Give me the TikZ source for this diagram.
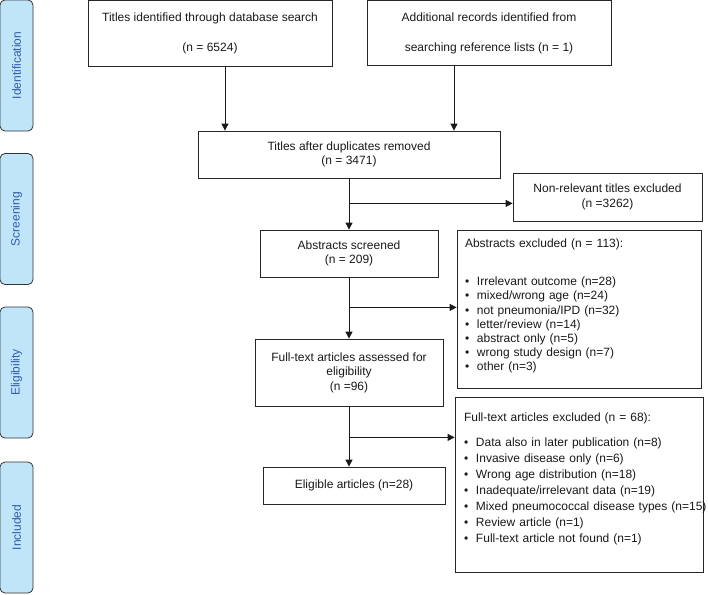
\documentclass[tikz,border=0pt]{standalone}
\usepackage{fontspec}
\setmainfont{Liberation Sans}
\usetikzlibrary{arrows.meta}
\definecolor{bandblue}{RGB}{192,229,249}
\definecolor{bandtext}{RGB}{50,92,175}
\newcommand{\bitem}[1]{\mbox{\makebox[12pt][l]{\textbullet}#1}}

\begin{document}
\begin{tikzpicture}[x=1pt,y=-1pt,
    box/.style={draw=black!85,line width=0.8pt,align=center,inner sep=0pt,text=black!90,
                font=\fontsize{12}{14.5}\selectfont},
    listbox/.style={box,align=left,inner xsep=8pt,font=\fontsize{12}{14.2}\selectfont},
    band/.style={draw=black!80,line width=0.8pt,fill=bandblue,rounded corners=5pt,rotate=90,
                 minimum width=131pt,minimum height=33pt,text=bandtext,font=\fontsize{12}{14}\selectfont},
    arr/.style={-{Triangle[length=7pt,width=7pt]},line width=0.9pt,black!90}]
    \useasboundingbox (0,0) rectangle (708,594);
    \node[band] (bandid)   at (16.5,65.5)  {Identification};
    \node[band] (bandscr)  at (16.5,219)   {Screening};
    \node[band] (bandelig) at (16.5,372.5) {Eligibility};
    \node[band] (bandincl) at (16.5,527.5) {Included};

    \node[box,minimum width=244pt,minimum height=66pt] (search) at (210,33.5)
        {Titles identified through database search\\[15.5pt](n = 6524)};
    \node[box,minimum width=244pt,minimum height=65pt] (refs) at (489,33)
        {Additional records identified from\\[15.5pt]searching reference lists (n = 1)};
    \node[box,minimum width=302pt,minimum height=47pt] (dedup) at (349,154.5)
        {Titles after duplicates removed\\(n = 3471)};
    \node[box,minimum width=189pt,minimum height=48pt] (nonrel) at (607.5,197)
        {Non-relevant titles excluded\\(n =3262)};
    \node[box,minimum width=178pt,minimum height=47pt] (abstr) at (349,253.5)
        {Abstracts screened\\(n = 209)};
    \node[listbox,text width=228pt,minimum height=158pt] (absexcl) at (579,309)
        {Abstracts excluded (n = 113):\\[23.8pt]
         \bitem{Irrelevant outcome (n=28)}\\
         \bitem{mixed/wrong age (n=24)}\\
         \bitem{not pneumonia/IPD (n=32)}\\
         \bitem{letter/review (n=14)}\\
         \bitem{abstract only (n=5)}\\
         \bitem{wrong study design (n=7)}\\
         \bitem{other (n=3)}\\[-6pt]\mbox{}};
    \node[box,minimum width=188pt,minimum height=67pt] (fulltext) at (349,372.5)
        {Full-text articles assessed for\\eligibility\\(n =96)};
    \node[listbox,text width=230pt,inner xsep=9pt,minimum height=175pt,
          font=\fontsize{12}{16}\selectfont] (ftexcl) at (579,484.5)
        {Full-text articles excluded (n = 68):\\[9pt]
         \bitem{Data also in later publication (n=8)}\\
         \bitem{Invasive disease only (n=6)}\\
         \bitem{Wrong age distribution (n=18)}\\
         \bitem{Inadequate/irrelevant data (n=19)}\\
         \bitem{Mixed pneumococcal disease types (n=15)}\\
         \bitem{Review article (n=1)}\\
         \bitem{Full-text article not found (n=1)}\\[-2pt]\mbox{}};
    \node[box,minimum width=182pt,minimum height=37pt] (elig) at (354,485.5)
        {Eligible articles (n=28)};

    \draw[arr] ([xshift=15pt]search.south) -- ([xshift=15pt]search.south |- dedup.north);
    \draw[arr] ([xshift=-35pt]refs.south) -- ([xshift=-35pt]refs.south |- dedup.north);
    \draw[arr] (dedup.south) -- (abstr.north);
    \coordinate (fork1) at ([yshift=-25pt]dedup.south);
    \draw[arr] (fork1) -- (fork1 -| nonrel.west);
    \draw[arr] (abstr.south) -- (fulltext.north);
    \coordinate (fork2) at ([yshift=-30pt]abstr.south);
    \draw[arr] (fork2) -- (fork2 -| absexcl.west);
    \draw[arr] (fulltext.south) -- (fulltext.south |- elig.north);
    \coordinate (fork3) at ([yshift=-31pt]fulltext.south);
    \draw[arr] (fork3) -- (fork3 -| ftexcl.west);
\end{tikzpicture}
\end{document}
